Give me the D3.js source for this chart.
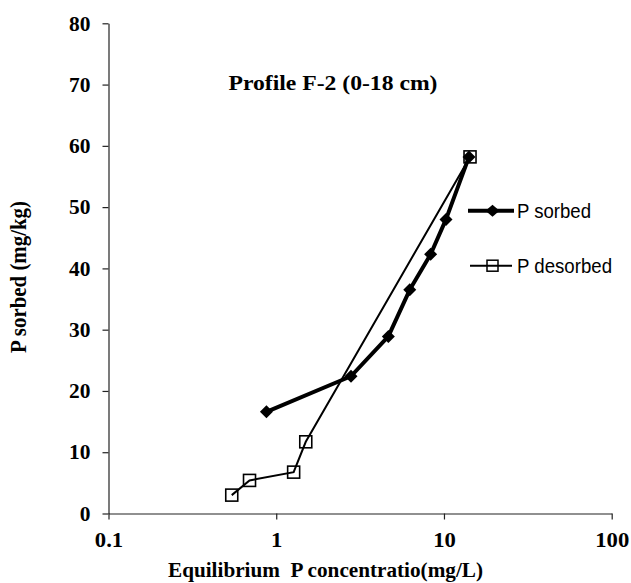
<!DOCTYPE html>
<html>
<head>
<meta charset="utf-8">
<script src="https://cdn.jsdelivr.net/npm/d3@7"></script>
<style>
  body { margin: 0; background: #fff; }
  svg { display: block; }
  .axis path, .axis line { stroke: #222; stroke-width: 1.2; }
  .axis text { font-family: "Liberation Serif", serif; font-weight: bold; font-size: 21px; fill: #000; }
  .title, .axis-label { font-family: "Liberation Serif", serif; font-weight: bold; font-size: 21px; fill: #000; white-space: pre; }
  .legend text { font-family: "Liberation Sans", Arial, sans-serif; font-size: 20px; fill: #000; }
</style>
</head>
<body>
<div id="chart"></div>
<script>
// P sorbed series (equilibrium conc. mg/L, amount mg/kg)
const sorbedConc = [0.874, 2.79, 4.66, 6.25, 8.33, 10.28, 14.1];
const sorbedAmt = [16.6, 22.4, 28.9, 36.5, 42.3, 48.0, 58.2];

// P desorbed series
const desorbedConc = [14.3, 1.5, 1.27, 0.693, 0.543];
const desorbedAmt = [58.2, 11.7, 6.75, 5.4, 3.0];

const xTicks = [0.1, 1, 10, 100];
const yTicks = [0, 10, 20, 30, 40, 50, 60, 70, 80];

const seriesNames = ["P sorbed", "P desorbed"];

const width = 631;
const height = 583;

const svg = d3
  .select("#chart")
  .append("svg")
  .attr("width", width)
  .attr("height", height);

const x = d3.scaleLog().domain([0.1, 100]).range([108.5, 611.7]);
const y = d3.scaleLinear().domain([0, 80]).range([513.5, 23.3]);

// stretch text a bit horizontally, the original figure is wider than the font
function stretch(sel, k) {
  sel.each(function () {
    const len = this.getComputedTextLength();
    d3.select(this)
      .attr("textLength", len * k)
      .attr("lengthAdjust", "spacingAndGlyphs");
  });
}

// Axes
const yAxis = svg
  .append("g")
  .attr("class", "axis y-axis")
  .attr("transform", `translate(${x(0.1)},0)`)
  .call(
    d3.axisLeft(y).tickValues(yTicks).tickSize(6).tickSizeOuter(0).tickPadding(12)
  );
yAxis.selectAll("text").call(stretch, 1.02);

const xAxis = svg
  .append("g")
  .attr("class", "axis x-axis")
  .attr("transform", `translate(0,${y(0)})`)
  .call(
    d3
      .axisBottom(x)
      .tickValues(xTicks)
      .tickFormat(d3.format("~g"))
      .tickSize(6)
      .tickSizeOuter(0)
      .tickPadding(13)
  );
xAxis.selectAll("text").call(stretch, 1.08);

// Title and axis labels
svg
  .append("text")
  .attr("class", "title")
  .attr("x", 333)
  .attr("y", 90)
  .attr("text-anchor", "middle")
  .attr("textLength", 209)
  .attr("lengthAdjust", "spacingAndGlyphs")
  .style("font-size", "22px")
  .text("Profile F-2 (0-18 cm)");

svg
  .append("text")
  .attr("class", "axis-label")
  .attr("x", 325.5)
  .attr("y", 577)
  .attr("text-anchor", "middle")
  .attr("textLength", 315)
  .attr("lengthAdjust", "spacingAndGlyphs")
  .text("Equilibrium  P concentratio(mg/L)");

svg
  .append("text")
  .attr("class", "axis-label")
  .attr("transform", "translate(26,277) rotate(-90) scale(1,1.1)")
  .attr("text-anchor", "middle")
  .attr("textLength", 152)
  .attr("lengthAdjust", "spacingAndGlyphs")
  .text("P sorbed (mg/kg)");

// Series
const sorbed = sorbedConc.map((c, i) => ({ c: c, v: sorbedAmt[i] }));
const desorbed = desorbedConc.map((c, i) => ({ c: c, v: desorbedAmt[i] }));

const line = d3
  .line()
  .x((d) => x(d.c))
  .y((d) => y(d.v));

function diamond(cx, cy, w, h) {
  return `M${cx},${cy - h}L${cx + w},${cy}L${cx},${cy + h}L${cx - w},${cy}Z`;
}

svg
  .append("path")
  .datum(sorbed)
  .attr("d", line)
  .attr("fill", "none")
  .attr("stroke", "#000")
  .attr("stroke-width", 4)
  .attr("stroke-linejoin", "round");

svg
  .selectAll(".diamond")
  .data(sorbed)
  .enter()
  .append("path")
  .attr("class", "diamond")
  .attr("d", (d) => diamond(x(d.c), y(d.v), 6.5, 6.5))
  .attr("fill", "#000");

svg
  .append("path")
  .datum(desorbed)
  .attr("d", line)
  .attr("fill", "none")
  .attr("stroke", "#000")
  .attr("stroke-width", 2);

svg
  .selectAll(".square")
  .data(desorbed)
  .enter()
  .append("rect")
  .attr("class", "square")
  .attr("x", (d) => x(d.c) - 6)
  .attr("y", (d) => y(d.v) - 6)
  .attr("width", 12)
  .attr("height", 12)
  .attr("fill", "none")
  .attr("stroke", "#000")
  .attr("stroke-width", 1.6);

// Legend
const legend = svg.append("g").attr("class", "legend");

legend
  .append("line")
  .attr("x1", 468)
  .attr("x2", 514)
  .attr("y1", 210.7)
  .attr("y2", 210.7)
  .attr("stroke", "#000")
  .attr("stroke-width", 4);
legend
  .append("path")
  .attr("d", diamond(492.5, 210.7, 7, 6))
  .attr("fill", "#000");
legend
  .append("text")
  .attr("x", 517)
  .attr("y", 218)
  .attr("textLength", 74)
  .attr("lengthAdjust", "spacingAndGlyphs")
  .text(seriesNames[0]);

legend
  .append("line")
  .attr("x1", 470)
  .attr("x2", 512)
  .attr("y1", 265.7)
  .attr("y2", 265.7)
  .attr("stroke", "#000")
  .attr("stroke-width", 2);
legend
  .append("rect")
  .attr("x", 487)
  .attr("y", 260.2)
  .attr("width", 11)
  .attr("height", 11)
  .attr("fill", "none")
  .attr("stroke", "#000")
  .attr("stroke-width", 1.5);
legend
  .append("text")
  .attr("x", 517)
  .attr("y", 272.5)
  .attr("textLength", 95)
  .attr("lengthAdjust", "spacingAndGlyphs")
  .text(seriesNames[1]);
</script>
</body>
</html>
